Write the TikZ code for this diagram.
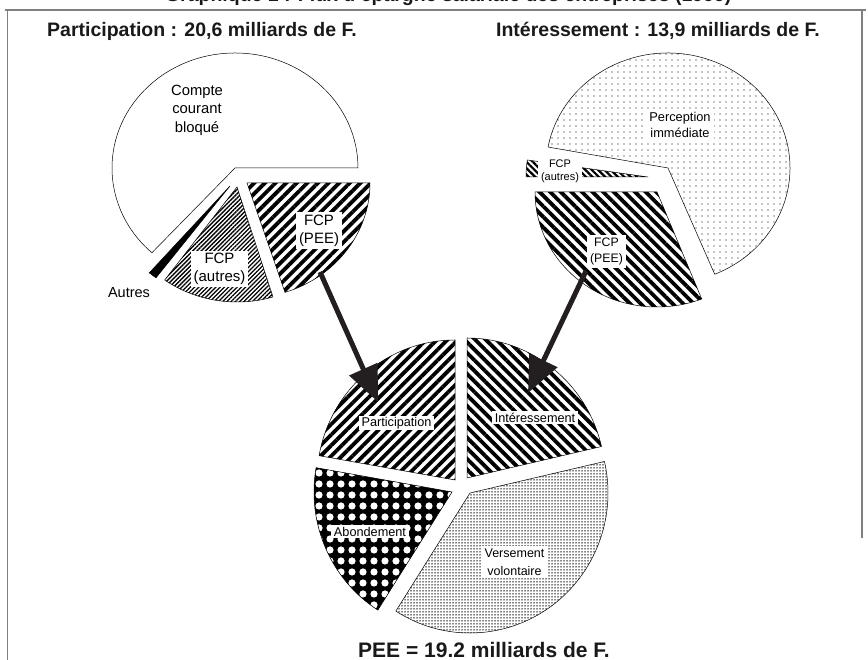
\documentclass[tikz,border=0pt]{standalone}
\usepackage{fontspec}
\setmainfont{Liberation Sans}
\usetikzlibrary{patterns.meta,arrows.meta}
\definecolor{arrowcol}{HTML}{231F20}
\definecolor{framecol}{HTML}{808080}
\newcommand{\pslice}[7]{%
  \path[#1] (#2,#3) -- ++(#4:#6 and #7) arc[start angle=#4, end angle=#5, x radius=#6, y radius=#7] -- cycle;}
\begin{document}
\begin{tikzpicture}[x=1pt,y=1pt,
  slice/.style={draw=black,line width=0.5pt},
  stripeA/.style={slice,pattern={Lines[angle=45,distance=7.5pt,line width=3.8pt]}},
  stripeB/.style={slice,pattern={Lines[angle=-45,distance=7.5pt,line width=3.8pt]}},
  fineA/.style={slice,pattern={Lines[angle=45,distance=3pt,line width=1.3pt]}},
  medB/.style={slice,pattern={Lines[angle=-45,distance=4.5pt,line width=2.2pt]}},
  sparsedots/.style={slice,pattern={Dots[radius=0.65pt,distance=6pt]}},
  densedots/.style={slice,pattern={Dots[radius=0.75pt,distance=3pt]}},
  bigdots/.style={slice,pattern={Dots[radius=3.6pt,distance=11pt]},pattern color=white},
  lbl/.style={fill=white,inner xsep=3pt,inner ysep=2.5pt,align=center,text=black},
  title/.style={font=\bfseries\fontsize{19.5}{23}\selectfont,text=black!90},
  bigarrow/.style={line width=5pt,draw=arrowcol,-{Triangle[length=36pt,width=30pt]}},
  frameline/.style={draw=framecol,line width=1.3pt}]
\useasboundingbox (0,0) rectangle (868,660);

% frame and cut title
\node[title,anchor=base east] (toptitle) at (735,658.5) {Graphique 1 : Flux d'épargne salariale des entreprises (1999)};
\draw[frameline] (5,650) -- (866,650);
\draw[frameline] (7.5,650) -- (7.5,0);
\draw[frameline] (862,650) -- (862,122);

% titles
\node[title] (t1) at (202,629) {Participation : 20,6 milliards de F.};
\node[title] (t2) at (658,629) {Intéressement : 13,9 milliards de F.};
\node[title,font=\bfseries\fontsize{21}{25}\selectfont,anchor=base] (t3) at (484,2) {PEE = 19.2 milliards de F.};

% left pie (Participation)
\pslice{slice,fill=white}{235}{492}{0}{227.5}{123}{115}
\pslice{slice,fill=black}{230}{474}{229}{233}{123}{115}
\pslice{fineA}{237}{473}{234}{287}{123}{115}
\pslice{stripeA}{247}{477}{288}{360}{123}{115}

% right pie (Interessement)
\pslice{sparsedots}{668}{492}{-67.5}{169.5}{122}{115}
\pslice{medB}{648}{483}{171.5}{180}{122}{115}
\pslice{stripeB}{657}{468}{180}{291.5}{122}{115}

% bottom pie (PEE)
\pslice{stripeA}{455}{180}{90}{170}{138}{140}
\pslice{stripeB}{467}{182}{13}{90}{138}{140}
\pslice{densedots}{470}{167}{237.5}{373}{138}{140}
\pslice{fill=black}{452}{168}{170}{237.5}{138}{140}
\pslice{bigdots}{452}{168}{170}{237.5}{138}{140}

% labels left pie
\node[align=center,font=\fontsize{14.8}{18.5}\selectfont] (ccb) at (197,550) {Compte\\courant\\bloqué};
\node[lbl,font=\fontsize{15}{18}\selectfont] (fcppeeL) at (319,429.5) {FCP\\(PEE)};
\node[lbl,font=\fontsize{15}{18}\selectfont] (fcpautL) at (219.5,391) {FCP\\(autres)};
\node[font=\fontsize{14.5}{17}\selectfont] (autres) at (129,367) {Autres};

% labels right pie
\node[lbl,font=\fontsize{12.8}{16}\selectfont] (percep) at (680,535) {Perception\\immédiate};
\node[lbl,inner ysep=1pt,font=\fontsize{11}{13.5}\selectfont] (fcpautR) at (560,488.5) {FCP\\(autres)};
\node[lbl,font=\fontsize{12.3}{16}\selectfont] (fcppeeR) at (606.5,408.5) {FCP\\(PEE)};

% labels bottom pie
\node[lbl,inner ysep=1.5pt,font=\fontsize{12.7}{15}\selectfont] (part) at (396.5,237) {Participation};
\node[lbl,inner ysep=1.5pt,font=\fontsize{12.7}{15}\selectfont] (inter) at (535,242.5) {Intéressement};
\node[lbl,inner ysep=1.5pt,font=\fontsize{12.7}{15}\selectfont] (abond) at (370,128.5) {Abondement};
\node[lbl,font=\fontsize{12.5}{18}\selectfont] (vers) at (514.5,98) {Versement\\volontaire};

% arrows
\coordinate (a1s) at (320,388);
\coordinate (a1e) at (378,258);
\coordinate (a2s) at (586,389);
\coordinate (a2e) at (528,267);
\draw[bigarrow] (a1s) -- (a1e);
\draw[bigarrow] (a2s) -- (a2e);
\end{tikzpicture}
\end{document}
